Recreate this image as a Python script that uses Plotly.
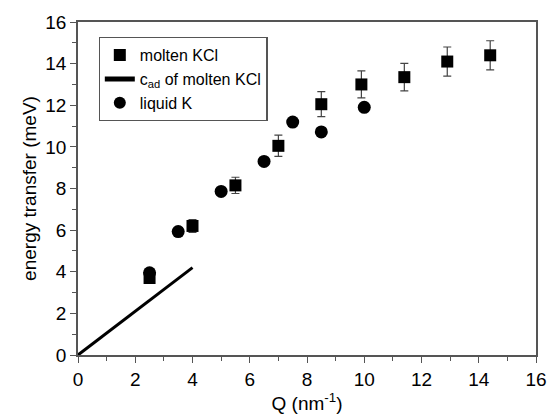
import plotly.graph_objects as go

# Data
kcl_q = [2.5, 4.0, 5.5, 7.0, 8.5, 9.9, 11.4, 12.9, 14.4]
kcl_e = [3.7, 6.2, 8.15, 10.05, 12.05, 13.0, 13.35, 14.1, 14.4]
kcl_err = [0.2, 0.31, 0.39, 0.51, 0.6, 0.65, 0.66, 0.7, 0.7]

cad_q = [0.0, 4.0]
cad_e = [0.0, 4.2]

k_q = [2.5, 3.5, 5.0, 6.5, 7.5, 8.5, 10.0]
k_e = [3.95, 5.93, 7.86, 9.3, 11.19, 10.72, 11.9]

x_ticks = [0, 2, 4, 6, 8, 10, 12, 14, 16]
y_ticks = [0, 2, 4, 6, 8, 10, 12, 14, 16]

font = "Liberation Sans, Arial, sans-serif"

fig = go.Figure()
fig.add_trace(go.Scatter(
    x=kcl_q, y=kcl_e, mode="markers", name="molten KCl",
    marker=dict(symbol="square", size=12, color="black"),
    error_y=dict(type="data", array=kcl_err, visible=True, color="#444", thickness=1.2, width=4),
))
fig.add_trace(go.Scatter(
    x=cad_q, y=cad_e, mode="lines", name="c<sub>ad</sub> of molten KCl",
    line=dict(color="black", width=3),
))
fig.add_trace(go.Scatter(
    x=k_q, y=k_e, mode="markers", name="liquid K",
    marker=dict(symbol="circle", size=13, color="black"),
))

axis_common = dict(
    showline=True, linecolor="#555", linewidth=1.5, mirror=True,
    ticks="outside", ticklen=6, tickwidth=1.2, tickcolor="#555",
    showgrid=False, zeroline=False,
    tickfont=dict(family=font, size=19, color="black"),
    minor=dict(ticks="outside", ticklen=4, tickwidth=1.2, tickcolor="#555", dtick=1),
)

fig.update_xaxes(
    range=[0, 16], tickvals=x_ticks, ticktext=[str(v) for v in x_ticks],
    title=dict(text="Q (nm<sup>-1</sup>)", font=dict(family=font, size=19, color="black"), standoff=2),
    **axis_common,
)
fig.update_yaxes(
    range=[0, 16], tickvals=y_ticks, ticktext=[str(v) for v in y_ticks],
    title=dict(text="energy transfer (meV)", font=dict(family=font, size=19, color="black"), standoff=4),
    **axis_common,
)

fig.update_layout(
    width=559, height=418,
    margin=dict(l=78, r=19, t=17, b=63),
    plot_bgcolor="white", paper_bgcolor="white",
    font=dict(family=font, color="black"),
    legend=dict(
        x=0.045, y=0.955, xanchor="left", yanchor="top",
        bgcolor="white", bordercolor="#555", borderwidth=1.2,
        font=dict(family=font, size=16, color="black"),
        tracegroupgap=0, itemsizing="constant",
    ),
    showlegend=True,
)

fig.write_html("out.html")
